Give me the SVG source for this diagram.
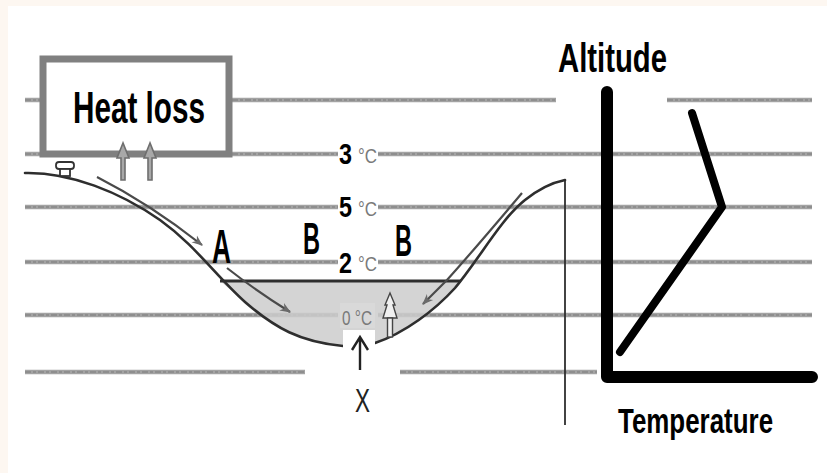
<svg xmlns="http://www.w3.org/2000/svg" width="827" height="473" viewBox="0 0 827 473">
  <style>
    .strata { stroke: #a3a3a3; stroke-width: 4.5; fill: none; }
    .strata-core { stroke: #888888; stroke-width: 1.5; fill: none; stroke-dasharray: 6 2 3 2; }
    .ground { stroke: #2e2e2e; stroke-width: 2.6; fill: none; stroke-linecap: round; }
    .flow { stroke: #4a4a4a; stroke-width: 2.2; fill: none; }
    .bold { font-family: "Liberation Sans", Arial, sans-serif; font-weight: bold; fill: #000; }
    .deg { font-family: "Liberation Sans", Arial, sans-serif; fill: #7a7a7a; }
    .axis { stroke: #000; fill: none; stroke-linecap: round; stroke-linejoin: round; }
  </style>
  <defs>
    <marker id="flowHead" viewBox="0 0 10 10" refX="9" refY="5" markerWidth="5" markerHeight="5" orient="auto">
      <path d="M0,1 L10,5 L0,9 L3,5 Z" fill="#6a6a6a"/>
    </marker>
  </defs>

  <!-- paper -->
  <rect width="827" height="473" fill="#fdf7f1"/>
  <rect x="8" y="6" width="819" height="467" fill="#ffffff"/>

  <!-- air layers -->
  <g id="strata">
    <path class="strata" d="M25,100 H42 M232,100 H556 M667,100 H812
      M25,154 H42 M232,154 H338 M378,154 H812
      M25,207 H338 M378,207 H812
      M25,262 H338 M378,262 H812
      M25,315 H338 M378,315 H812
      M25,372 H305 M400,372 H597"/>
    <path class="strata-core" d="M25,100 H42 M232,100 H556 M667,100 H812
      M25,154 H42 M232,154 H338 M378,154 H812
      M25,207 H338 M378,207 H812
      M25,262 H338 M378,262 H812
      M25,315 H338 M378,315 H812
      M25,372 H305 M400,372 H597"/>
  </g>

  <!-- lake of cold air -->
  <g id="lake">
    <path d="M220,281 H460 C445,300 420,325 375,343 L343,346 C300,342 270,325 245,302 C235,293 227,287 220,281 Z" fill="#cdcdcd" opacity="0.85"/>
    <rect x="340" y="303" width="35" height="25" fill="#d9d9d9"/>
    <path d="M220,281 H461" stroke="#2e2e2e" stroke-width="3"/>
  </g>

  <!-- valley -->
  <g id="valley">
    <path class="ground" d="M25,173 C70,172 120,192 160,220 C195,245 215,275 245,302 C275,328 300,342 343,346"/>
    <path class="ground" d="M375,343 C405,333 435,310 455,288 C480,258 500,220 525,200 C540,188 555,182 565,180"/>
    <path d="M565,180 V425" stroke="#2e2e2e" stroke-width="1.8"/>
    <rect x="343" y="330" width="32" height="30" fill="#ffffff"/>
  </g>

  <!-- hut on the slope -->
  <g id="hut" stroke="#333" stroke-width="1.8" fill="#ffffff">
    <rect x="56" y="162" width="18" height="7" rx="3"/>
    <rect x="60" y="169" width="10" height="7"/>
  </g>

  <!-- tree in the lake -->
  <g id="tree" stroke="#444" stroke-width="1.4" fill="#f0f0f0">
    <path d="M390,293 L385,305 L387,305 L383,318 L397,318 L393,305 L395,305 Z"/>
    <rect x="387.5" y="318" width="5" height="19"/>
  </g>

  <!-- heat loss box -->
  <g id="heat-loss">
    <rect x="43" y="59" width="186" height="95" fill="#ffffff" stroke="#808080" stroke-width="7"/>
    <text class="bold" x="73" y="123" font-size="44" textLength="132" lengthAdjust="spacingAndGlyphs">Heat loss</text>
  </g>

  <!-- air movement -->
  <g id="connectors">
    <path class="flow" d="M97,177 Q150,204 202,245" marker-end="url(#flowHead)"/>
    <path class="flow" d="M227,268 Q255,290 290,312" marker-end="url(#flowHead)"/>
    <path class="flow" d="M522,193 C495,225 465,260 447,280 L423,304" marker-end="url(#flowHead)"/>
    <g stroke="#6e6e6e" stroke-width="1.6" fill="#a8a8a8">
      <path d="M123,143 L117,158 L121,158 L121,180 L125,180 L125,158 L129,158 Z"/>
      <path d="M150,143 L144,158 L148,158 L148,180 L152,180 L152,158 L156,158 Z"/>
    </g>
    <path d="M360,370 V338 M352,350 L360,337 L368,350" stroke="#222" stroke-width="2.4" fill="none"/>
  </g>

  <!-- temperatures -->
  <g id="temperatures">
    <text class="bold" x="339" y="164" font-size="29" textLength="13" lengthAdjust="spacingAndGlyphs">3</text>
    <text class="deg" x="358" y="163" font-size="20" textLength="19" lengthAdjust="spacingAndGlyphs">°C</text>
    <text class="bold" x="339" y="217" font-size="29" textLength="13" lengthAdjust="spacingAndGlyphs">5</text>
    <text class="deg" x="358" y="216" font-size="20" textLength="19" lengthAdjust="spacingAndGlyphs">°C</text>
    <text class="bold" x="339" y="273" font-size="29" textLength="13" lengthAdjust="spacingAndGlyphs">2</text>
    <text class="deg" x="358" y="271" font-size="20" textLength="19" lengthAdjust="spacingAndGlyphs">°C</text>
    <text class="deg" x="342" y="325" font-size="20" textLength="30" lengthAdjust="spacingAndGlyphs">0 °C</text>
  </g>

  <!-- zone letters -->
  <g id="letters">
    <text class="bold" x="212" y="263" font-size="48" textLength="19" lengthAdjust="spacingAndGlyphs">A</text>
    <text class="bold" x="303" y="254" font-size="44" textLength="17" lengthAdjust="spacingAndGlyphs">B</text>
    <text class="bold" x="395" y="256" font-size="44" textLength="17" lengthAdjust="spacingAndGlyphs">B</text>
    <text x="355" y="412" font-family="Liberation Sans, Arial, sans-serif" font-size="34" fill="#222" textLength="15" lengthAdjust="spacingAndGlyphs">X</text>
  </g>

  <!-- altitude / temperature profile -->
  <g id="profile">
    <path class="axis" d="M607,92 V377 H812" stroke-width="12"/>
    <path class="axis" d="M692,113 L722,207 L620,352" stroke-width="8"/>
    <text class="bold" x="558" y="72" font-size="40" textLength="109" lengthAdjust="spacingAndGlyphs">Altitude</text>
    <text class="bold" transform="translate(618,433) scale(0.72,1)" x="0" y="0" font-size="36">Temperature</text>
  </g>
</svg>
